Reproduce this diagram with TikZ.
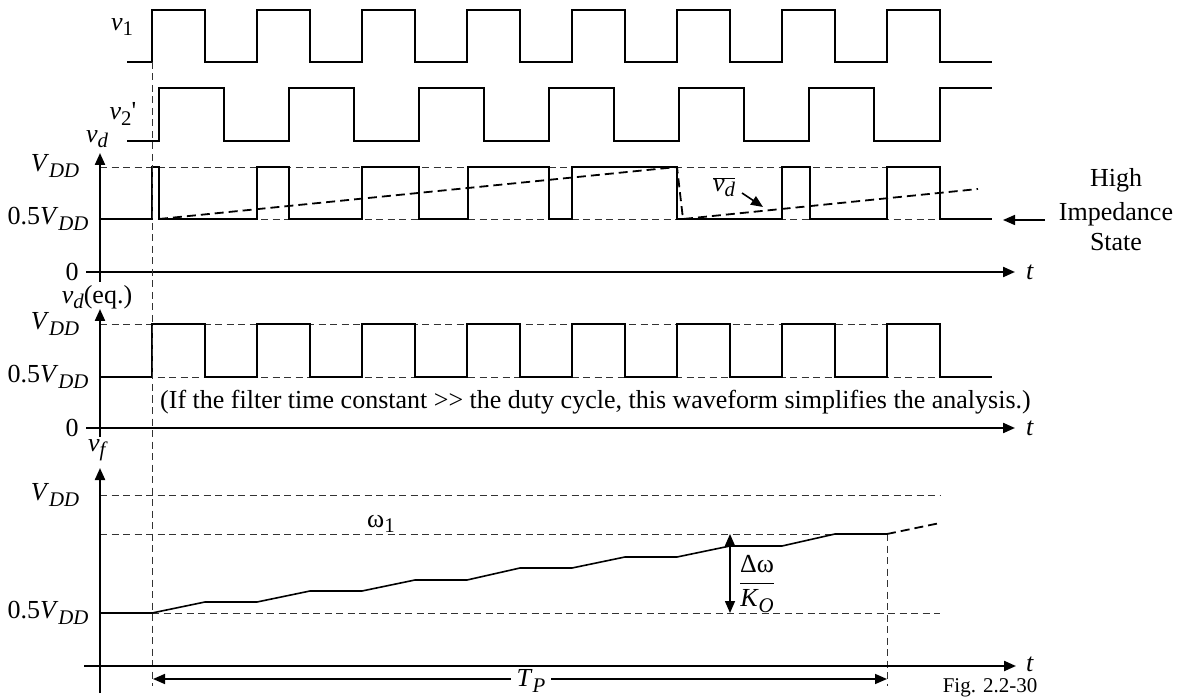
\documentclass[tikz,border=0pt]{standalone}
\usepackage{fontspec}
\setmainfont{Liberation Serif}
\newfontfamily\rawserif{Liberation Serif}[Ligatures=TeXOff]
\usepackage{graphicx}
\usetikzlibrary{arrows.meta}
\newcommand{\dnsub}[1]{\raisebox{-0.45ex}{\scalebox{0.8}{#1}}}
\newcommand{\VDD}{\textit{V}\dnsub{\textit{DD}}}
\begin{document}
\begin{tikzpicture}[x=1pt,y=-1pt,
  wave/.style={line width=1.6pt, line join=miter},
  axis/.style={line width=2.2pt, -{Triangle[length=12pt,width=10pt]}},
  gridline/.style={line width=0.9pt, dash pattern=on 7pt off 4.5pt, black!80},
  avg/.style={line width=1.8pt, dash pattern=on 9pt off 5pt},
  lab/.style={font=\fontsize{26}{30}\selectfont, inner sep=0pt},
  tip/.style={-{Triangle[length=12pt,width=10pt]}, line width=1.6pt},
  dtip/.style={{Triangle[length=12pt,width=10pt]}-{Triangle[length=12pt,width=10pt]}, line width=1.6pt}]
\useasboundingbox (0,0) rectangle (1178,700);

% ---------- v1 ----------
\draw[wave] (127,62) -- (152,62) -- (152,10) -- (205,10) -- (205,62) -- (257,62) -- (257,10) -- (310,10) -- (310,62) -- (362,62) -- (362,10) -- (415,10) -- (415,62) -- (467,62) -- (467,10) -- (520,10) -- (520,62) -- (572,62) -- (572,10) -- (625,10) -- (625,62) -- (677,62) -- (677,10) -- (730,10) -- (730,62) -- (782,62) -- (782,10) -- (835,10) -- (835,62) -- (887,62) -- (887,10) -- (940,10) -- (940,62) -- (992,62);
\node[lab] (lv1) at (122,27) {\textit{v}\dnsub{1}};

% ---------- v2' ----------
\draw[wave] (127,141) -- (159,141) -- (159,88) -- (224,88) -- (224,141) -- (289,141) -- (289,88) -- (354,88) -- (354,141) -- (419,141) -- (419,88) -- (484,88) -- (484,141) -- (549,141) -- (549,88) -- (614,88) -- (614,141) -- (679,141) -- (679,88) -- (744,88) -- (744,141) -- (809,141) -- (809,88) -- (874,88) -- (874,141) -- (940,141) -- (940,88) -- (992,88);
\node[lab] (lv2) at (123,114) {\textit{v}\dnsub{2}{\rawserif '}};

% ---------- vd ----------
\coordinate (ya1) at (100,282); \coordinate (ya1t) at (100,153);
\coordinate (xa1) at (86,272); \coordinate (xa1t) at (1015,272);
\draw[gridline] (100,167) -- (940,167);
\draw[gridline] (100,219) -- (940,219);
\draw[axis] (ya1) -- (ya1t);
\draw[axis] (xa1) -- (xa1t);
\draw[wave] (100,219) -- (152,219) -- (152,167) -- (159,167) -- (159,219) -- (257,219) -- (257,167) -- (289,167) -- (289,219) -- (362,219) -- (362,167) -- (419,167) -- (419,219) -- (468,219) -- (468,167) -- (549,167) -- (549,219) -- (572,219) -- (572,167) -- (677,167) -- (677,219) -- (782,219) -- (782,167) -- (810,167) -- (810,219) -- (887,219) -- (887,167) -- (940,167) -- (940,219) -- (992,219);
\draw[avg] (159,219) -- (677,167) -- (683,219) -- (978,189);
\node[lab] (lvd) at (97,139) {\textit{v}\dnsub{\textit{d}}};
\node[lab] (lvdd1) at (55,166) {\VDD};
\node[lab] (lhalf1) at (48,219) {0.5\VDD};
\node[lab] (lzero1) at (72,272) {0};
\node[lab, anchor=west] (lt1) at (1026,272) {\textit{t}};
\node[lab] (lbar) at (724,187) {$\overline{\hbox{\textit{v}\dnsub{\textit{d}}}}$};
\coordinate (ba) at (742,193); \coordinate (bb) at (763,207);
\draw[tip] (ba) -- (bb);
\node[font=\fontsize{26}{30}\selectfont, inner sep=0pt, anchor=base] (hi1) at (1116,187) {High};
\node[font=\fontsize{26}{30}\selectfont, inner sep=0pt, anchor=base] (hi2) at (1116,221) {Impedance};
\node[font=\fontsize{26}{30}\selectfont, inner sep=0pt, anchor=base] (hi3) at (1116,251) {State};
\coordinate (ha) at (1045,220); \coordinate (hb) at (1003,220);
\draw[tip] (ha) -- (hb);

% ---------- vd(eq.) ----------
\coordinate (ya2) at (100,437); \coordinate (ya2t) at (100,309);
\coordinate (xa2) at (86,428); \coordinate (xa2t) at (1015,428);
\draw[gridline] (100,324) -- (940,324);
\draw[gridline] (100,377) -- (940,377);
\draw[axis] (ya2) -- (ya2t);
\draw[axis] (xa2) -- (xa2t);
\draw[wave] (100,377) -- (152,377) -- (152,324) -- (205,324) -- (205,377) -- (257,377) -- (257,324) -- (310,324) -- (310,377) -- (362,377) -- (362,324) -- (415,324) -- (415,377) -- (467,377) -- (467,324) -- (520,324) -- (520,377) -- (572,377) -- (572,324) -- (625,324) -- (625,377) -- (677,377) -- (677,324) -- (730,324) -- (730,377) -- (782,377) -- (782,324) -- (835,324) -- (835,377) -- (887,377) -- (887,324) -- (940,324) -- (940,377) -- (992,377);
\node[lab] (lvdeq) at (97,297) {\textit{v}\dnsub{\textit{d}}(eq.)};
\node[lab] (lvdd2) at (55,324) {\VDD};
\node[lab] (lhalf2) at (48,377) {0.5\VDD};
\node[lab] (lzero2) at (72,428) {0};
\node[lab, anchor=west] (lt2) at (1026,428) {\textit{t}};
\node[font=\fontsize{26}{30}\selectfont, inner sep=0pt, anchor=west] (note) at (160,402) {(If the filter time constant {\rawserif >>} the duty cycle, this waveform simplifies the analysis.)};

% ---------- vf ----------
\coordinate (ya3) at (100,693); \coordinate (ya3t) at (100,468);
\coordinate (xa3) at (84,666); \coordinate (xa3t) at (1016,666);
\draw[gridline] (100,495) -- (940,495);
\draw[gridline] (100,534) -- (887,534);
\draw[gridline] (152,613) -- (940,613);
\draw[gridline] (152,62) -- (152,686);
\draw[gridline] (887,534) -- (887,686);
\draw[axis] (ya3) -- (ya3t);
\draw[axis] (xa3) -- (xa3t);
\draw[wave] (100,613) -- (152,613) -- (205,602) -- (257,602) -- (310,591) -- (362,591) -- (415,580) -- (467,580) -- (520,568) -- (572,568) -- (625,557) -- (677,557) -- (730,546) -- (782,546) -- (835,534) -- (887,534);
\draw[avg] (887,534) -- (940,523);
\node[lab] (lvf) at (98,450) {\textit{v}\dnsub{\textit{f}}};
\node[lab] (lvdd3) at (55,495) {\VDD};
\node[lab] (lw1) at (381,524) {ω\dnsub{1}};
\node[lab] (lhalf3) at (48,613) {0.5\VDD};
\node[lab, anchor=west] (lt3) at (1026,664) {\textit{t}};
\coordinate (dwt) at (730,534); \coordinate (dwb) at (730,613);
\draw[dtip] (dwb) -- (dwt);
\node[lab] (ldw) at (757,584) {$\displaystyle\frac{\hbox{Δω}}{\hbox{\textit{K}\dnsub{\textit{O}}}}$};
\coordinate (tpl) at (153,679); \coordinate (tpr) at (887,679);
\draw[dtip] (tpl) -- (tpr);
\node[lab, fill=white, inner xsep=6pt, inner ysep=2pt] (ltp) at (531,681) {\textit{T}\dnsub{\textit{P}}};
\node[font=\fontsize{21}{24}\selectfont, inner sep=0pt] (fig) at (990,688) {Fig. 2.2-30};
\end{tikzpicture}
\end{document}
